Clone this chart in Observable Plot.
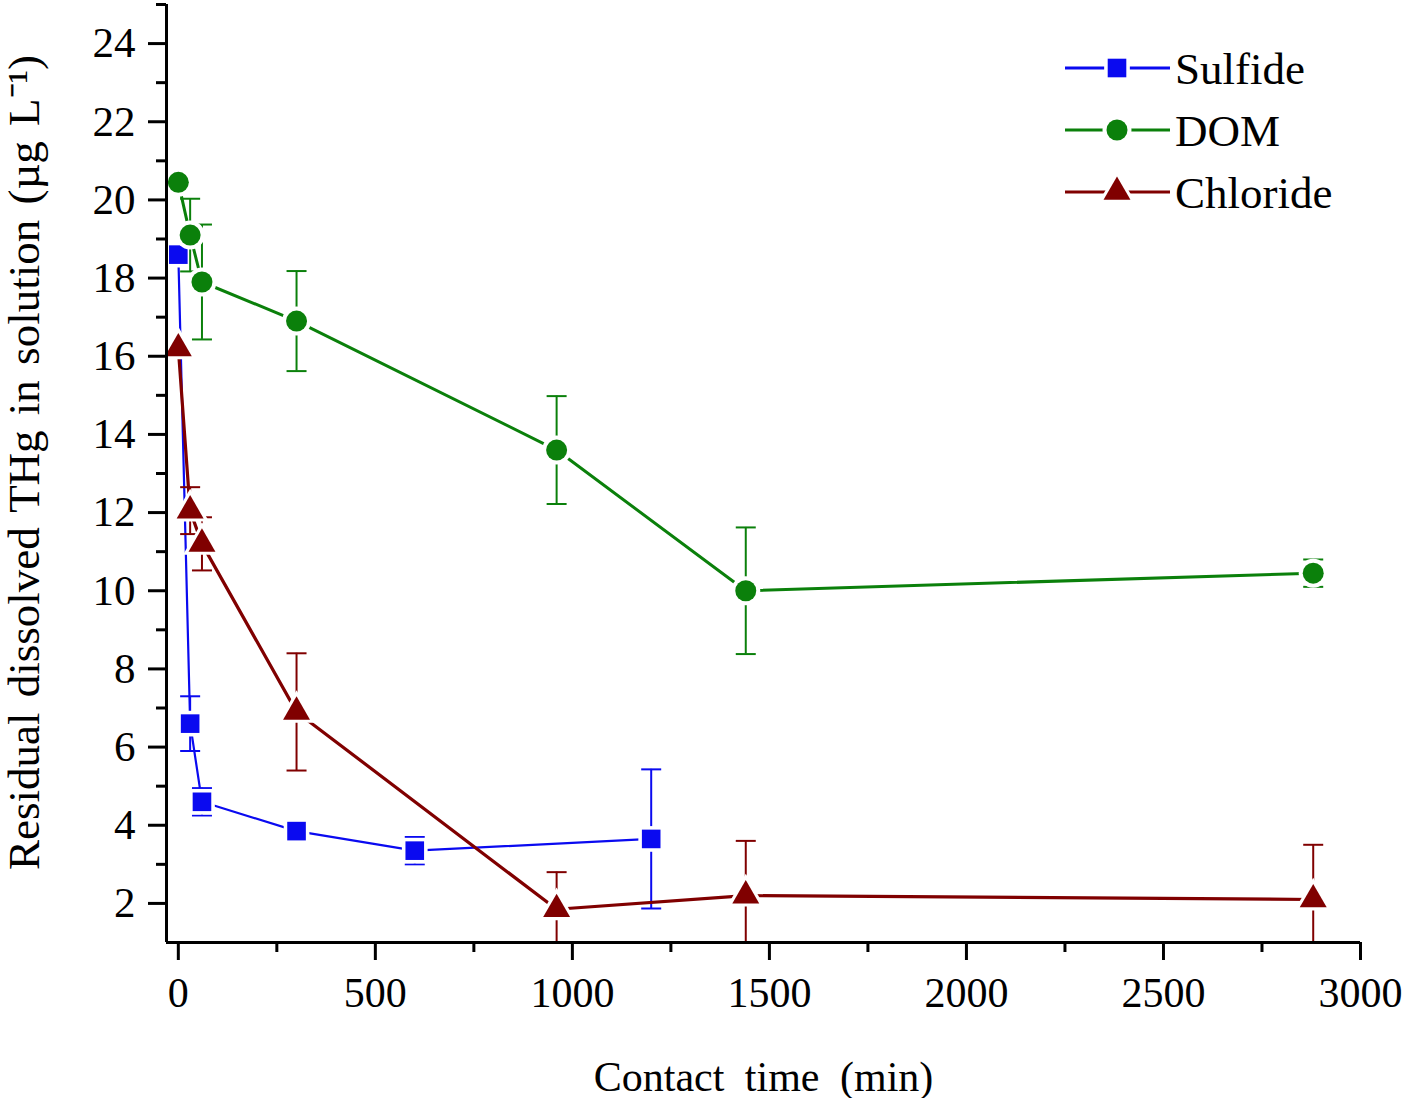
<!DOCTYPE html>
<html>
<head>
<meta charset="utf-8">
<script src="https://cdn.jsdelivr.net/npm/d3@7"></script>
<script src="https://cdn.jsdelivr.net/npm/@observablehq/plot@0.6"></script>
<style>
  html, body { margin: 0; padding: 0; background: #fff; }
  #wrap { position: relative; width: 1418px; height: 1098px; font-family: "Liberation Serif", serif; }
  #legend { position: absolute; left: 1050px; top: 30px; }
</style>
</head>
<body>
<div id="wrap"><div id="chart"></div><svg id="legend" width="330" height="200"></svg></div>
<script>
// ---- data ----
const seriesNames = ["Sulfide", "DOM", "Chloride"];
const seriesColors = ["#0a0af0", "#0b800b", "#800000"];
const seriesSymbols = ["square", "circle", "triangle"];

const sulfideTime  = [0, 30, 60, 300, 600, 1200];
const sulfideValue = [18.6, 6.6, 4.6, 3.85, 3.35, 3.65];
const sulfideError = [0, 0.7, 0.35, 0, 0.35, 1.78];

const domTime  = [0, 30, 60, 300, 960, 1440, 2880];
const domValue = [20.45, 19.1, 17.9, 16.9, 13.6, 10.0, 10.45];
const domError = [0, 0.93, 1.47, 1.28, 1.38, 1.62, 0.35];

const chlorideTime  = [0, 30, 60, 300, 960, 1440, 2880];
const chlorideValue = [16.2, 12.05, 11.2, 6.9, 1.85, 2.2, 2.1];
const chlorideError = [0, 0.6, 0.68, 1.5, 0.95, 1.4, 1.4];

const xMajorTicks = [0, 500, 1000, 1500, 2000, 2500, 3000];
const xMinorTicks = [250, 750, 1250, 1750, 2250, 2750];
const yMajorTicks = [2, 4, 6, 8, 10, 12, 14, 16, 18, 20, 22, 24];
const yMinorTicks = [3, 5, 7, 9, 11, 13, 15, 17, 19, 21, 23, 25];
const xDomain = [-30, 3000];
const yDomain = [1, 25];

const xTitle = "Contact time (min)";
const yTitle = "Residual dissolved THg in solution (\u00b5g L\u207b\u00b9)";

// ---- build tables ----
const seriesData = [
  [sulfideTime, sulfideValue, sulfideError],
  [domTime, domValue, domError],
  [chlorideTime, chlorideValue, chlorideError]
].map(([t, v, e], i) => t.map((x, j) => ({series: seriesNames[i], x, y: v[j], e: e[j]})));

const capSymbol = {
  draw(context, size) {
    const r = Math.sqrt(size / Math.PI);
    context.moveTo(-r, 0);
    context.lineTo(r, 0);
  }
};
const markerR = {square: 10.5, circle: 10.5, triangle: 10};
const lineW = [2.2, 3, 3.2];

const seriesMarks = seriesData.flatMap((data, i) => {
  const color = seriesColors[i];
  const sym = seriesSymbols[i];
  const withErr = data.filter(d => d.e > 0);
  const caps = withErr.flatMap(d => [{x: d.x, y: d.y + d.e}, {x: d.x, y: d.y - d.e}]);
  return [
    Plot.line(data, {x: "x", y: "y", stroke: color, strokeWidth: lineW[i]}),
    Plot.ruleX(withErr, {x: "x", y1: d => d.y - d.e, y2: d => d.y + d.e, stroke: color, strokeWidth: 2, clip: true}),
    Plot.dot(caps, {x: "x", y: "y", symbol: capSymbol, r: 10, stroke: color, strokeWidth: 2, fill: "none", clip: true}),
    Plot.dot(data, {x: "x", y: "y", symbol: sym, r: markerR[sym] + 4, fill: "white", stroke: "none"}),
    Plot.dot(data, {x: "x", y: "y", symbol: sym, r: markerR[sym], fill: color, stroke: "none"})
  ];
});

const chart = Plot.plot({
  width: 1418,
  height: 1098,
  marginLeft: 166,
  marginRight: 58,
  marginTop: 4,
  marginBottom: 156,
  x: {domain: xDomain},
  y: {domain: yDomain},
  style: {fontFamily: "Liberation Serif", color: "black", background: "white", overflow: "visible"},
  marks: [
    ...seriesMarks,
    Plot.axisX({ticks: xMajorTicks, tickSize: 18, tickPadding: 17, fontSize: 42, strokeWidth: 3, label: null, tickFormat: d => `${d}`}),
    Plot.axisX({ticks: xMinorTicks, tickSize: 10, strokeWidth: 3, label: null, tickFormat: () => ""}),
    Plot.axisY({ticks: yMajorTicks, tickSize: 18, tickPadding: 13, fontSize: 43, strokeWidth: 3, label: null, tickFormat: d => `${d}`}),
    Plot.axisY({ticks: yMinorTicks, tickSize: 10, strokeWidth: 3, label: null, tickFormat: () => ""}),
    Plot.ruleX([xDomain[0]], {stroke: "black", strokeWidth: 3}),
    Plot.ruleY([yDomain[0]], {stroke: "black", strokeWidth: 3, x1: xDomain[0], x2: xDomain[1]}),
    Plot.text([xTitle], {frameAnchor: "bottom", dy: 135, fontSize: 42, fill: "black", lineAnchor: "middle", textAnchor: "middle"}),
    Plot.text([yTitle], {frameAnchor: "left", rotate: -90, dx: -142, dy: -11, fontSize: 45, fill: "black", lineAnchor: "middle", textAnchor: "middle"})
  ]
});
document.getElementById("chart").appendChild(chart);

// wider word spacing in the titles, as in the reference
d3.select(chart).selectAll("text")
  .filter(function () { return this.textContent === xTitle; })
  .attr("word-spacing", "10px");
d3.select(chart).selectAll("text")
  .filter(function () { return this.textContent === yTitle; })
  .attr("word-spacing", "4px");

// ---- legend ----
const leg = d3.select("#legend");
const symType = {square: d3.symbolSquare, circle: d3.symbolCircle, triangle: d3.symbolTriangle};
seriesNames.forEach((name, i) => {
  const y = 38 + 62 * i;
  const g = leg.append("g");
  g.append("line").attr("x1", 15).attr("x2", 120).attr("y1", y).attr("y2", y)
    .attr("stroke", seriesColors[i]).attr("stroke-width", 3);
  g.append("path")
    .attr("d", d3.symbol().type(symType[seriesSymbols[i]]).size(Math.PI * Math.pow(markerR[seriesSymbols[i]] + 4, 2))())
    .attr("transform", `translate(67,${y})`).attr("fill", "white");
  g.append("path")
    .attr("d", d3.symbol().type(symType[seriesSymbols[i]]).size(Math.PI * Math.pow(markerR[seriesSymbols[i]], 2))())
    .attr("transform", `translate(67,${y})`).attr("fill", seriesColors[i]);
  g.append("text").attr("x", 125).attr("y", y).attr("dy", "0.35em")
    .attr("font-family", "Liberation Serif").attr("font-size", 45).attr("fill", "black").text(name);
});
</script>
</body>
</html>
